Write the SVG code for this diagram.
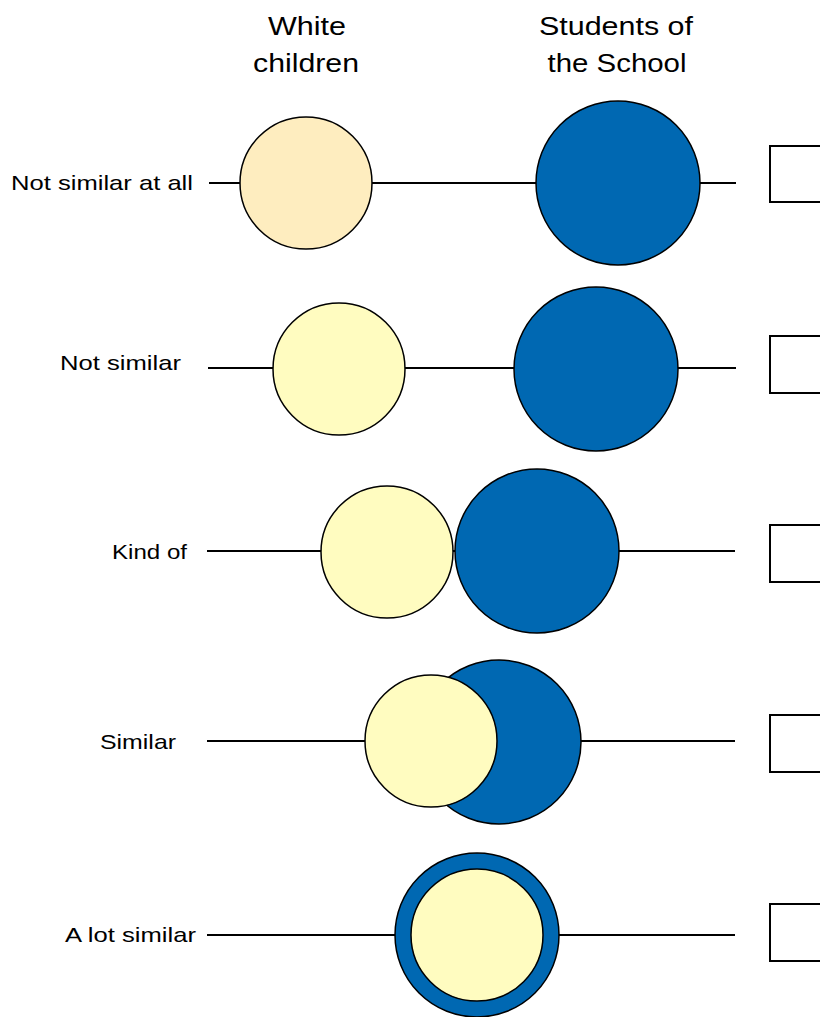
<svg xmlns="http://www.w3.org/2000/svg" width="820" height="1017" viewBox="0 0 820 1017">
  <style>
    .hdr { font-family: "Liberation Sans", "DejaVu Sans", sans-serif; font-size: 26px; fill: #000; text-anchor: middle; }
    .lbl { font-family: "Liberation Sans", "DejaVu Sans", sans-serif; font-size: 21px; fill: #000; text-anchor: end; }
    .line { stroke: #000; stroke-width: 2; fill: none; }
    .blue { fill: #0068B2; stroke: #000; stroke-width: 1.5; }
    .cream { fill: #FEEDBF; stroke: #000; stroke-width: 1.5; }
    .yellow { fill: #FFFCC0; stroke: #000; stroke-width: 1.5; }
    .box { fill: #fff; stroke: #000; stroke-width: 2; }
  </style>
  <rect width="820" height="1017" fill="#fff"/>

  <!-- column headings -->
  <g id="headers">
    <text class="hdr" x="307" y="35" textLength="78" lengthAdjust="spacingAndGlyphs">White</text>
    <text class="hdr" x="306" y="72" textLength="106" lengthAdjust="spacingAndGlyphs">children</text>
    <text class="hdr" x="616" y="35" textLength="154" lengthAdjust="spacingAndGlyphs">Students of</text>
    <text class="hdr" x="617" y="72" textLength="139" lengthAdjust="spacingAndGlyphs">the School</text>
  </g>

  <!-- horizontal guide lines for each row -->
  <g id="connectors">
    <line class="line" x1="209" y1="183" x2="736" y2="183"/>
    <line class="line" x1="208" y1="368" x2="736" y2="368"/>
    <line class="line" x1="207" y1="551" x2="735" y2="551"/>
    <line class="line" x1="207" y1="741" x2="735" y2="741"/>
    <line class="line" x1="207" y1="935" x2="735" y2="935"/>
  </g>

  <g id="row-not-similar-at-all">
    <text class="lbl" x="193" y="190" textLength="182" lengthAdjust="spacingAndGlyphs">Not similar at all</text>
    <circle class="cream" cx="306" cy="183" r="66"/>
    <circle class="blue" cx="618" cy="183" r="82"/>
    <rect class="box" x="770" y="146" width="60" height="56"/>
  </g>

  <g id="row-not-similar">
    <text class="lbl" x="181" y="370" textLength="121" lengthAdjust="spacingAndGlyphs">Not similar</text>
    <circle class="yellow" cx="339" cy="369" r="66"/>
    <circle class="blue" cx="596" cy="369" r="82"/>
    <rect class="box" x="770" y="336" width="60" height="57"/>
  </g>

  <g id="row-kind-of">
    <text class="lbl" x="187" y="559" textLength="75" lengthAdjust="spacingAndGlyphs">Kind of</text>
    <circle class="yellow" cx="387" cy="552" r="66"/>
    <circle class="blue" cx="537" cy="551" r="82"/>
    <rect class="box" x="770" y="525" width="60" height="57"/>
  </g>

  <g id="row-similar">
    <text class="lbl" x="176" y="749" textLength="76" lengthAdjust="spacingAndGlyphs">Similar</text>
    <circle class="blue" cx="499" cy="742" r="82"/>
    <circle class="yellow" cx="431" cy="741" r="66"/>
    <rect class="box" x="770" y="715" width="60" height="57"/>
  </g>

  <g id="row-a-lot-similar">
    <text class="lbl" x="196" y="942" textLength="131" lengthAdjust="spacingAndGlyphs">A lot similar</text>
    <circle class="blue" cx="477" cy="935" r="82"/>
    <circle class="yellow" cx="477" cy="935" r="66"/>
    <rect class="box" x="770" y="904" width="60" height="57"/>
  </g>
</svg>
